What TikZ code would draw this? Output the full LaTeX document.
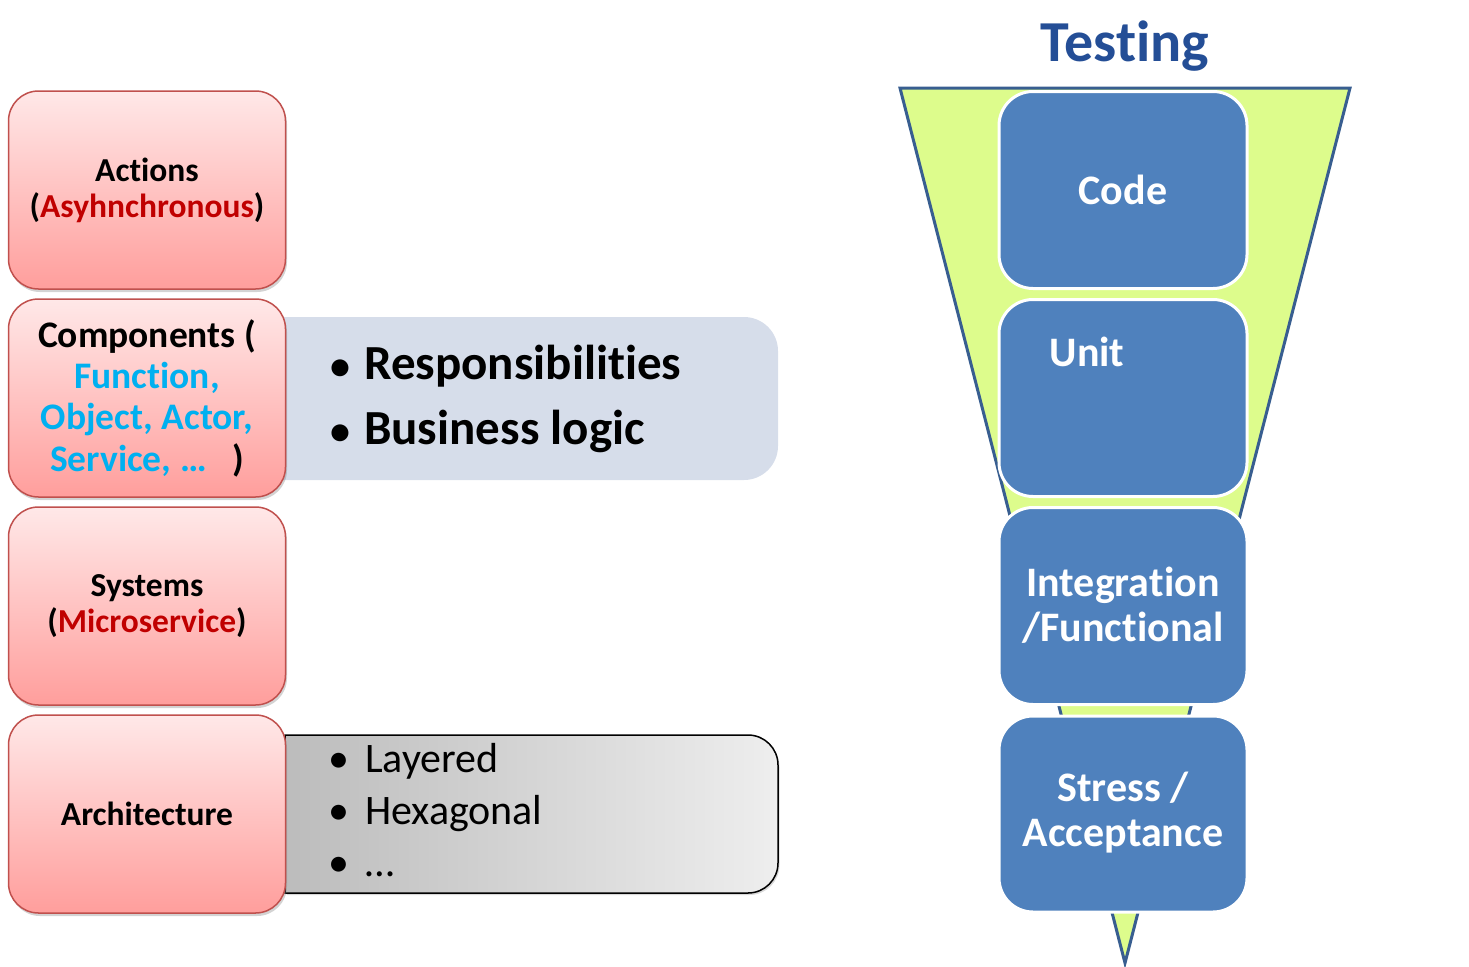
\documentclass[tikz,border=0pt]{standalone}
\usepackage{fontspec}
\setmainfont{Carlito}[Ligatures=NoCommon, RawFeature={-liga;-clig;-calt;-dlig}]
\usetikzlibrary{shadows}
\definecolor{pinktop}{RGB}{255,232,232}
\definecolor{pinkbot}{RGB}{255,158,156}
\definecolor{pinkedge}{RGB}{192,80,77}
\definecolor{redtxt}{RGB}{192,0,0}
\definecolor{cyantxt}{RGB}{0,176,240}
\definecolor{bluegray}{RGB}{214,221,234}
\definecolor{boxblue}{RGB}{79,129,189}
\definecolor{funnelgreen}{RGB}{221,252,140}
\definecolor{funneledge}{RGB}{56,94,144}
\definecolor{titleblue}{RGB}{36,78,150}
\definecolor{grayL}{RGB}{188,188,188}
\definecolor{grayR}{RGB}{238,238,238}
\newcommand{\nolig}{\kern0pt }
\tikzset{
  pinkbox/.style={rounded corners=30pt, minimum width=277pt, minimum height=198pt,
    top color=pinktop, bottom color=pinkbot, draw=pinkedge, line width=1.5pt,
    align=center, font=\bfseries, inner sep=0pt,
    drop shadow={opacity=0.35, shadow xshift=1.5pt, shadow yshift=-3pt}},
  bluebox/.style={rounded corners=34pt, minimum width=248pt, minimum height=197pt,
    fill=boxblue, draw=white, line width=3pt, inner sep=0pt},
  bluetxt/.style={text=white, font=\fontsize{42}{45}\selectfont\bfseries, align=center},
  bulletbig/.style={anchor=west, font=\fontsize{49}{56}\selectfont\bfseries, inner sep=0pt},
  bulletsmall/.style={anchor=west, font=\fontsize{42}{46}\selectfont, inner sep=0pt}
}
\begin{document}
\begin{tikzpicture}[x=1pt,y=-1pt]
\useasboundingbox (0,0) rectangle (1469,966);
% light blue-gray box (behind the components box)
\fill[bluegray, rounded corners=34pt] (240,317) rectangle (778,480);
% gray gradient box
\shade[left color=grayL, right color=grayR, draw=black, line width=1.5pt,
  drop shadow={opacity=0.3, shadow xshift=1.5pt, shadow yshift=-2pt}]
  (285,735) -- (500,735) [rounded corners=30pt] -- (778,735) -- (778,893) -- (500,893) [sharp corners] -- (285,893) -- cycle;
% pink boxes
\node[pinkbox, font=\fontsize{33.5}{36}\selectfont\bfseries] (actions) at (147,190) {Actions\\(\textcolor{redtxt}{Asyhnchronous})};
\node[pinkbox, font=\fontsize{37.5}{41.3}\selectfont\bfseries] (components) at (147,398) {Components (\\\textcolor{cyantxt}{Function,}\\\textcolor{cyantxt}{Object, Actor,}\\\textcolor{cyantxt}{Service, …}\ \ \ )};
\node[pinkbox, font=\fontsize{33.5}{36}\selectfont\bfseries] (systems) at (147,606) {Systems\\(\textcolor{redtxt}{Microservice})};
\node[pinkbox, font=\fontsize{33.5}{36}\selectfont\bfseries] (architecture) at (147,814) {Architecture};
% bullet texts
\node[bulletbig] (resp) at (330,366) {{\fontsize{40}{40}\selectfont•}\hspace{14pt}Responsibili\nolig ti\nolig es};
\node[bulletbig] (biz) at (330,431) {{\fontsize{40}{40}\selectfont•}\hspace{14pt}Business logic};
\node[bulletsmall] (layered) at (328,761) {•\hspace{16pt}Layered};
\node[bulletsmall] (hex) at (328,814) {•\hspace{16pt}Hexagonal};
\node[bulletsmall] (dots) at (328,867) {•\hspace{16pt}…};
% funnel
\draw[fill=funnelgreen, draw=funneledge, line width=3pt, line join=miter]
  (900,88) -- (1350,88) -- (1125,963) -- cycle;
\node[text=titleblue, font=\fontsize{58}{64}\selectfont\bfseries] (title) at (1125,46) {Testing};
% blue boxes
\node[bluebox] (code) at (1123,190) {};
\node[bluetxt] (codet) at (code) {Code};
\node[bluebox] (unit) at (1123,398) {};
\node[bluetxt] (unitt) at (1087,352) {Unit};
\node[bluebox, minimum width=248pt, minimum height=197pt] (integ) at (1123,606) {};
\node[bluetxt] (integt) at (1123,605) {Integra\nolig ti\nolig on\\/Functional};
\node[bluebox, minimum width=248pt, minimum height=196pt] (stress) at (1123,814) {};
\node[bluetxt] (stresst) at (1123,813) {Stress /\\Acceptance};
\end{tikzpicture}
\end{document}
